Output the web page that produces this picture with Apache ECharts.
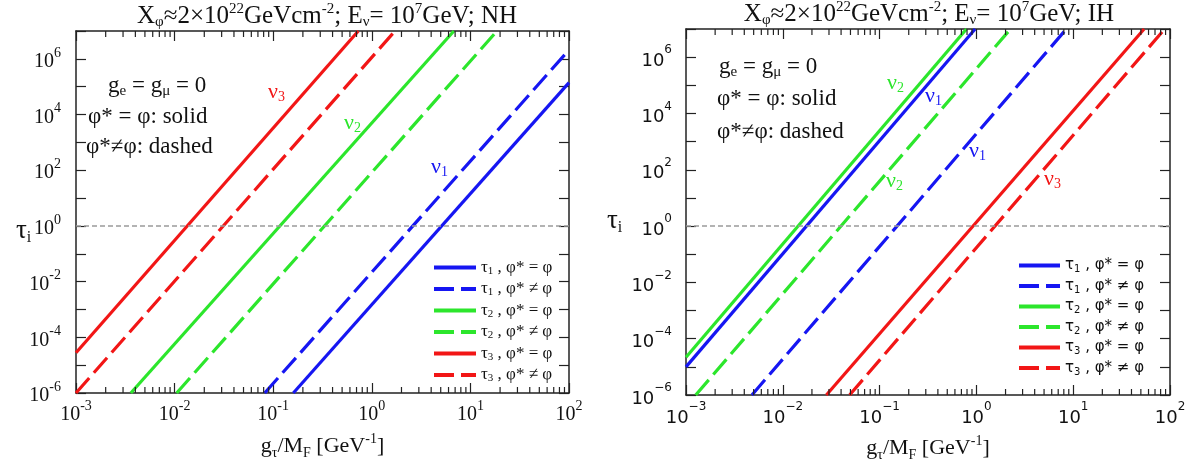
<!DOCTYPE html>
<html>
<head>
<meta charset="UTF-8">
<title>tau_i vs g_tau/M_F</title>
<script src="https://cdn.jsdelivr.net/npm/echarts@6/dist/echarts.min.js"></script>
<style>
    html, body { margin: 0; padding: 0; background: #fff; }
    #chart { width: 1190px; height: 468px; }
</style>
</head>
<body>
<div id="chart"></div>
<script>
    // axis ranges (log10 scale on both axes)
    const xRange = [1e-3, 1e2];
    const yRange = [1e-6, 1e7];

    const names = ['τ1 , φ* = φ', 'τ1 , φ* ≠ φ', 'τ2 , φ* = φ', 'τ2 , φ* ≠ φ', 'τ3 , φ* = φ', 'τ3 , φ* ≠ φ'];
    const colors = ['#1616f2', '#1616f2', '#2ce62c', '#2ce62c', '#f21616', '#f21616'];
    const dashed = [false, true, false, true, false, true];

    // each line is straight in log-log: the two points where it leaves the frame
    // NH panel
    const nhTau1Solid = [[0.16, 1e-6], [100, 1.4e5]];
    const nhTau1Dash = [[0.082, 1e-6], [100, 2.1e6]];
    const nhTau2Solid = [[0.0036, 1e-6], [6.8, 1e7]];
    const nhTau2Dash = [[0.0105, 1e-6], [18.6, 1e7]];
    const nhTau3Solid = [[1e-3, 2.8e-5], [0.73, 1e7]];
    const nhTau3Dash = [[1e-3, 1e-6], [1.72, 1e7]];
    // IH panel
    const ihTau1Solid = [[1e-3, 1.0e-5], [0.97, 1e7]];
    const ihTau1Dash = [[0.0048, 1e-6], [8.5, 1e7]];
    const ihTau2Solid = [[1e-3, 2.2e-5], [0.79, 1e7]];
    const ihTau2Dash = [[0.00126, 1e-6], [2.25, 1e7]];
    const ihTau3Solid = [[0.0282, 1e-6], [54, 1e7]];
    const ihTau3Dash = [[0.049, 1e-6], [88, 1e7]];

    const nhLines = [nhTau1Solid, nhTau1Dash, nhTau2Solid, nhTau2Dash, nhTau3Solid, nhTau3Dash];
    const ihLines = [ihTau1Solid, ihTau1Dash, ihTau2Solid, ihTau2Dash, ihTau3Solid, ihTau3Dash];

    // minor ticks on x: 2..9 x 10^k
    const minorTicks = [];
    for (let k = -3; k < 2; k++) {
        for (let m = 2; m <= 9; m++) minorTicks.push(m * Math.pow(10, k));
    }

    const serif = "'Liberation Serif', 'DejaVu Serif', serif";
    const sans = "'DejaVu Sans', sans-serif";

    const chart = echarts.init(document.getElementById('chart'));

    function expOf(v) { return Math.round(Math.log10(v)); }

    function richTicks(font, size) {
        return {
            b: { fontFamily: font, fontSize: size, lineHeight: 26, color: '#111', verticalAlign: 'bottom' },
            sup: { fontFamily: font, fontSize: Math.round(size * 0.68), lineHeight: 26, color: '#111', verticalAlign: 'top' }
        };
    }

    function tickLabel(minus, onlyEven) {
        return function (v) {
            const e = expOf(v);
            if (onlyEven && e % 2 !== 0) return '';
            return '{b|10}{sup|' + String(e).replace('-', minus) + '}';
        };
    }

    function axesFor(i, font, size, minus, yMargin) {
        const common = {
            type: 'log', logBase: 10, gridIndex: i,
            axisLine: { show: true, lineStyle: { color: '#222', width: 1.5 } },
            axisTick: { show: true, inside: true, length: 10, lineStyle: { color: '#222', width: 1.2 } },
            splitLine: { show: false },
            minorTick: { show: false }
        };
        const x = [
            Object.assign({}, common, {
                min: xRange[0], max: xRange[1], interval: 1, position: 'bottom',
                axisLabel: { margin: 6, formatter: tickLabel(minus, false), rich: richTicks(font, size) }
            }),
            Object.assign({}, common, {
                min: xRange[0], max: xRange[1], interval: 1, position: 'top',
                axisLabel: { show: false }
            })
        ];
        const y = [
            Object.assign({}, common, {
                min: yRange[0], max: yRange[1], interval: 1, position: 'left',
                axisLabel: { margin: yMargin, formatter: tickLabel(minus, true), rich: richTicks(font, size) }
            }),
            Object.assign({}, common, {
                min: yRange[0], max: yRange[1], interval: 1, position: 'right',
                axisLabel: { show: false }
            })
        ];
        return { x: x, y: y };
    }

    const a0 = axesFor(0, serif, 20, '-', 15);
    const a1 = axesFor(1, sans, 18, '−', 14);
    a0.x[0].name = '{b|g}{sub|τ}{b|/M}{sub|F}{b| [GeV}{sup|-1}{b|]}';
    a1.x[0].name = a0.x[0].name;
    [a0.x[0], a1.x[0]].forEach(function (ax) {
        ax.nameLocation = 'middle';
        ax.nameGap = 39;
        ax.nameTextStyle = {
            rich: {
                b: { fontFamily: serif, fontSize: 22, lineHeight: 28, color: '#111' },
                sub: { fontFamily: serif, fontSize: 14, lineHeight: 28, color: '#111', verticalAlign: 'bottom' },
                sup: { fontFamily: serif, fontSize: 14, lineHeight: 28, color: '#111', verticalAlign: 'top' }
            }
        };
    });

    // x axes: 0 = NH bottom, 1 = NH top, 2 = IH bottom, 3 = IH top
    const xAxes = [a0.x[0], a0.x[1], a1.x[0], a1.x[1]];
    const yAxes = [a0.y[0], a0.y[1], a1.y[0], a1.y[1]];

    function lineSeries(lines, axisIdx) {
        return lines.map(function (pts, j) {
            const s = {
                name: names[j],
                type: 'line',
                xAxisIndex: axisIdx, yAxisIndex: axisIdx,
                data: pts,
                showSymbol: false, symbol: 'none',
                clip: true,
                itemStyle: { color: colors[j] },
                lineStyle: { color: colors[j], width: 3.2, type: dashed[j] ? [20, 7] : 'solid' },
                z: 3
            };
            if (j === 0) {
                s.markLine = {
                    silent: true, symbol: 'none', label: { show: false },
                    lineStyle: { color: '#9a9a9a', type: [5, 3], width: 1.5 },
                    data: [{ yAxis: 1 }]
                };
            }
            return s;
        });
    }

    function minorTickSeries(axisIdx) {
        return {
            type: 'custom',
            xAxisIndex: axisIdx, yAxisIndex: axisIdx,
            silent: true, clip: false, z: 5,
            data: minorTicks.map(function (v) { return [v, yRange[0]]; }),
            encode: { x: 0, y: 1 },
            renderItem: function (params, api) {
                const v = api.value(0);
                const b = api.coord([v, yRange[0]]);
                const t = api.coord([v, yRange[1]]);
                const st = { stroke: '#222', lineWidth: 1.2 };
                return {
                    type: 'group',
                    children: [
                        { type: 'line', shape: { x1: b[0], y1: b[1], x2: b[0], y2: b[1] - 6 }, style: st },
                        { type: 'line', shape: { x1: t[0], y1: t[1], x2: t[0], y2: t[1] + 6 }, style: st }
                    ]
                };
            }
        };
    }

    function legendFor(left, top, font, size, w) {
        return {
            orient: 'vertical', left: left, top: top,
            itemWidth: w, itemHeight: 14, itemGap: 4,
            data: names,
            selectedMode: false,
            itemStyle: { opacity: 0 },
            lineStyle: { width: 4 },
            formatter: function (name) {
                const m = name.match(/τ(\d)(.*)/);
                return '{b|τ}{sub|' + m[1] + '}{b|' + m[2] + '}';
            },
            textStyle: {
                rich: {
                    b: { fontFamily: font, fontSize: size, lineHeight: 18, color: '#111' },
                    sub: { fontFamily: font, fontSize: Math.round(size * 0.66), lineHeight: 18, color: '#111', verticalAlign: 'bottom' }
                }
            }
        };
    }

    const titleRich = {
        b: { fontFamily: serif, fontSize: 25, fontWeight: 'normal', lineHeight: 28, color: '#111' },
        sub: { fontFamily: serif, fontSize: 15, fontWeight: 'normal', lineHeight: 28, color: '#111', verticalAlign: 'bottom' },
        sup: { fontFamily: serif, fontSize: 15, fontWeight: 'normal', lineHeight: 28, color: '#111', verticalAlign: 'top' }
    };
    function titleText(h) {
        return '{b|X}{sub|φ}{b|≈2×10}{sup|22}{b|GeVcm}{sup|-2}{b|; E}{sub|ν}{b|= 10}{sup|7}{b|GeV; ' + h + '}';
    }

    function txt(x, y, text, rich) {
        return { type: 'text', left: x, top: y, silent: true, style: { text: text, rich: rich } };
    }
    const annRich = {
        b: { fontFamily: serif, fontSize: 23, lineHeight: 26, fill: '#111' },
        sub: { fontFamily: serif, fontSize: 15, lineHeight: 26, fill: '#111', verticalAlign: 'bottom' }
    };
    function nuRich(c) {
        return {
            b: { fontFamily: serif, fontSize: 22, lineHeight: 24, fill: c },
            sub: { fontFamily: serif, fontSize: 14, lineHeight: 24, fill: c, verticalAlign: 'bottom' }
        };
    }
    const tauRich = {
        b: { fontFamily: serif, fontSize: 27, lineHeight: 30, fill: '#111' },
        sub: { fontFamily: serif, fontSize: 16, lineHeight: 30, fill: '#111', verticalAlign: 'bottom' }
    };
    const cRed = colors[4], cGreen = colors[2], cBlue = colors[0];

    const graphics = [
        txt(108, 74, '{b|g}{sub|e}{b| = g}{sub|μ}{b| = 0}', annRich),
        txt(88, 105, '{b|φ* = φ: solid}', annRich),
        txt(86, 135, '{b|φ*≠φ: dashed}', annRich),
        txt(268, 81, '{b|ν}{sub|3}', nuRich(cRed)),
        txt(344, 112, '{b|ν}{sub|2}', nuRich(cGreen)),
        txt(431, 156, '{b|ν}{sub|1}', nuRich(cBlue)),
        txt(719, 55, '{b|g}{sub|e}{b| = g}{sub|μ}{b| = 0}', annRich),
        txt(717, 87, '{b|φ* = φ: solid}', annRich),
        txt(717, 120, '{b|φ*≠φ: dashed}', annRich),
        txt(887, 72, '{b|ν}{sub|2}', nuRich(cGreen)),
        txt(925, 85, '{b|ν}{sub|1}', nuRich(cBlue)),
        txt(969, 140, '{b|ν}{sub|1}', nuRich(cBlue)),
        txt(886, 170, '{b|ν}{sub|2}', nuRich(cGreen)),
        txt(1044, 168, '{b|ν}{sub|3}', nuRich(cRed)),
        txt(16, 217, '{b|τ}{sub|i}', tauRich),
        txt(607, 207, '{b|τ}{sub|i}', tauRich)
    ];

    const option = {
        animation: false,
        backgroundColor: '#fff',
        title: [
            { text: titleText('NH'), left: 322, top: -3, textAlign: 'center', textStyle: { fontWeight: 'normal', rich: titleRich } },
            { text: titleText('IH'), left: 924, top: -5, textAlign: 'center', textStyle: { fontWeight: 'normal', rich: titleRich } }
        ],
        grid: [
            { left: 76, top: 31, width: 493, height: 362 },
            { left: 686, top: 29, width: 484, height: 366 }
        ],
        xAxis: xAxes,
        yAxis: yAxes,
        legend: [legendFor(427, 254, serif, 17, 42), legendFor(1012, 253, sans, 15, 41)],
        graphic: graphics,
        series: [].concat(
            lineSeries(nhLines, 0),
            lineSeries(ihLines, 2),
            [minorTickSeries(0), minorTickSeries(2)]
        )
    };

    chart.setOption(option);
</script>
</body>
</html>
